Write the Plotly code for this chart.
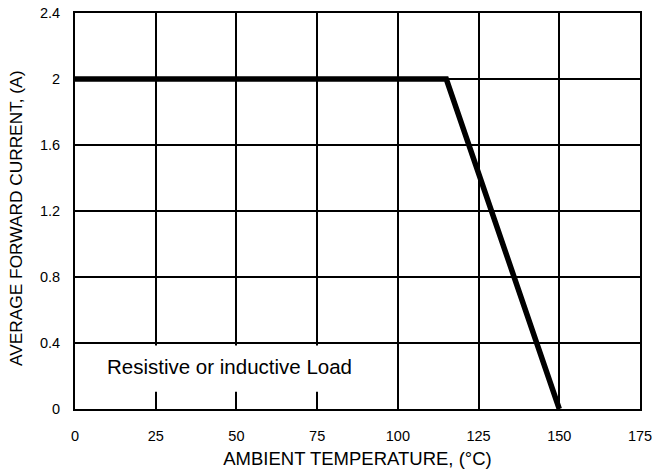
import plotly.graph_objects as go

# Data
temp_c = [0, 115, 150]
current_a = [2.0, 2.0, 0.0]
x_ticks = [0, 25, 50, 75, 100, 125, 150, 175]
x_tick_labels = ["0", "25", "50", "75", "100", "125", "150", "175"]
y_ticks = [0, 0.4, 0.8, 1.2, 1.6, 2.0, 2.4]
y_tick_labels = ["0", "0.4", "0.8", "1.2", "1.6", "2", "2.4"]
note_text = "Resistive or inductive Load"
x_title = "AMBIENT TEMPERATURE, (°C)"
y_title = "AVERAGE FORWARD CURRENT, (A)"

FONT = "Liberation Sans, Arial, sans-serif"

fig = go.Figure()
fig.add_trace(go.Scatter(x=temp_c, y=current_a, mode="lines",
                         line=dict(color="black", width=5.5), showlegend=False,
                         hoverinfo="skip"))

# White box behind the note (covers gridlines)
fig.add_shape(type="rect", xref="x", yref="y", x0=0.6, x1=98.8, y0=0.105, y1=0.385,
              fillcolor="white", line=dict(width=0), layer="above")
fig.add_annotation(x=9.2, y=0.255, xref="x", yref="y", text=note_text, showarrow=False,
                   xanchor="left", yanchor="middle",
                   font=dict(family=FONT, size=20.5, color="black"))

# Y axis title as rotated annotation
fig.add_annotation(x=0, y=0.5, xref="paper", yref="paper", text=y_title, showarrow=False,
                   textangle=-90, xanchor="center", yanchor="middle", xshift=-59, yshift=-8,
                   font=dict(family=FONT, size=17.3, color="black"))

axis_common = dict(showline=True, linecolor="black", linewidth=2, mirror=True,
                   showgrid=True, gridcolor="black", gridwidth=2, zeroline=False,
                   automargin=False, ticklabeloverflow="allow",
                   ticks="", tickfont=dict(family=FONT, size=14.5, color="black"))

fig.update_xaxes(range=[0, 175], tickvals=x_ticks, ticktext=x_tick_labels,
                 ticklabelstandoff=13,
                 title=dict(text=x_title, standoff=9,
                            font=dict(family=FONT, size=18.5, color="black")),
                 **axis_common)
fig.update_yaxes(range=[0, 2.4], tickvals=y_ticks, ticktext=y_tick_labels,
                 ticklabelstandoff=10, **axis_common)

fig.update_layout(width=653, height=476, plot_bgcolor="white", paper_bgcolor="white",
                  margin=dict(l=75, r=13, t=13, b=67), showlegend=False)

fig.write_html("out.html", config={"displayModeBar": False},
               post_script="document.body.style.margin='0';document.body.style.overflow='hidden';")
